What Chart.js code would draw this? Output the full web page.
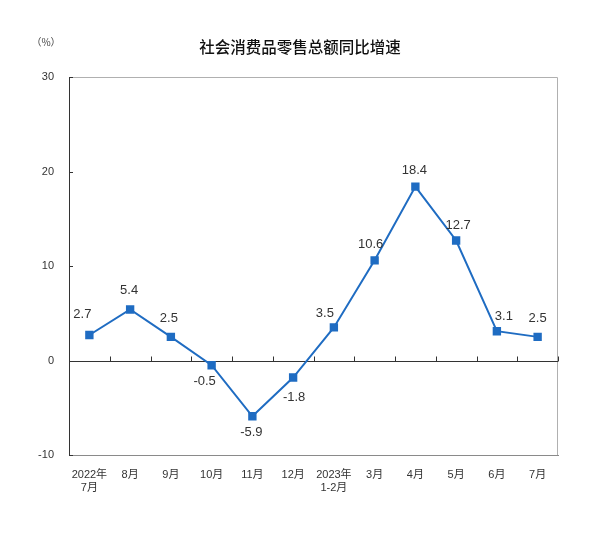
<!DOCTYPE html>
<html><head><meta charset="utf-8">
<script src="https://cdn.jsdelivr.net/npm/chart.js@4/dist/chart.umd.min.js"></script>
<style>html,body{margin:0;padding:0;background:#fff;}#wrap{width:610px;height:538px;}</style>
</head><body><div id="wrap"><canvas id="c" width="610" height="538"></canvas></div>
<script>
const categories = [["2022年","7月"],"8月","9月","10月","11月","12月",["2023年","1-2月"],"3月","4月","5月","6月","7月"];
const growth = [2.7, 5.4, 2.5, -0.5, -5.9, -1.8, 3.5, 10.6, 18.4, 12.7, 3.1, 2.5];
const yTicks = [-10, 0, 10, 20, 30];
const titleText = "社会消费品零售总额同比增速";
const unitText = "（%）";
// label offsets (dx, dy) relative to point, in px
const labelDx = [-7, -1, -2, -7, -1, 1, -9, -4, -1, 2, 7, 0];
const labelDy = [-21, -19, -18, 16, 16, 20, -14, -16, -16, -15, -15, -18];

const FONT = '"Liberation Sans", "Noto Sans CJK SC", sans-serif';

const decor = {
  id: 'decor',
  beforeDatasetsDraw(chart) {
    const {ctx, chartArea: a, scales: {x, y}} = chart;
    ctx.save();
    // frame
    ctx.strokeStyle = '#b0b0b0'; ctx.lineWidth = 1;
    ctx.beginPath();
    ctx.moveTo(a.left, a.top + 0.5); ctx.lineTo(a.right - 0.5, a.top + 0.5);
    ctx.lineTo(a.right - 0.5, a.bottom);
    ctx.stroke();
    // y inward ticks
    ctx.strokeStyle = '#333';
    ctx.beginPath();
    yTicks.forEach(v => {
      const py = Math.round(y.getPixelForValue(v)) + 0.5;
      ctx.moveTo(a.left, py); ctx.lineTo(a.left + 4, py);
    });
    ctx.stroke();
    // zero line with ticks
    const y0 = Math.round(y.getPixelForValue(0)) + 0.5;
    ctx.strokeStyle = '#333'; ctx.lineWidth = 1;
    ctx.beginPath();
    ctx.moveTo(a.left, y0); ctx.lineTo(a.right, y0);
    for (let i = 0; i < categories.length; i++) {
      const px = i < categories.length - 1 ? (x.getPixelForValue(i) + x.getPixelForValue(i + 1)) / 2 : a.right - 0.5;
      const rx = Math.round(px) + 0.5;
      ctx.moveTo(rx, y0); ctx.lineTo(rx, y0 - 5);
    }
    ctx.stroke();
    ctx.restore();
  },
  afterDatasetsDraw(chart) {
    const {ctx} = chart;
    const meta = chart.getDatasetMeta(0);
    ctx.save();
    ctx.fillStyle = '#333';
    ctx.font = '13px ' + FONT;
    ctx.textAlign = 'center'; ctx.textBaseline = 'middle';
    meta.data.forEach((pt, i) => {
      ctx.fillText(growth[i].toFixed(1), pt.x + labelDx[i], pt.y + labelDy[i]);
    });
    ctx.restore();
  },
  afterDraw(chart) {
    const {ctx} = chart;
    ctx.save();
    ctx.fillStyle = '#111';
    ctx.font = '500 15.5px "Noto Sans CJK SC", sans-serif';
    ctx.textAlign = 'center'; ctx.textBaseline = 'middle';
    ctx.fillText(titleText, 300, 47);
    ctx.fillStyle = '#444';
    ctx.font = '10px "Noto Sans CJK SC", sans-serif';
    ctx.fillText(unitText, 46, 42);
    ctx.restore();
  }
};

new Chart(document.getElementById('c'), {
  type: 'line',
  data: {
    labels: categories,
    datasets: [{
      data: growth,
      borderColor: '#1f6cc2',
      backgroundColor: '#1f6cc2',
      borderWidth: 2,
      pointStyle: 'rect',
      pointRadius: 4.5,
      pointHoverRadius: 4.5,
      tension: 0,
      clip: false
    }]
  },
  options: {
    responsive: false,
    animation: false,
    devicePixelRatio: 1,
    layout: {padding: {left: 0, right: 52, top: 77, bottom: 0}},
    plugins: {legend: {display: false}, tooltip: {enabled: false}, title: {display: false}},
    scales: {
      x: {
        offset: true,
        grid: {display: false, offset: true},
        border: {display: true, color: '#8a8a8a', width: 1},
        ticks: {color: '#333', font: {size: 11, family: FONT}, padding: 5, maxRotation: 0, autoSkip: false},
        afterFit(s) { s.height = 83; }
      },
      y: {
        min: -10, max: 30,
        grid: {display: false},
        border: {display: true, color: '#333', width: 1},
        afterBuildTicks(s) { s.ticks = yTicks.map(v => ({value: v})); },
        ticks: {color: '#333', font: {size: 11, family: FONT}, padding: 7},
        afterFit(s) { s.width = 69; }
      }
    }
  },
  plugins: [decor]
});
</script></body></html>
